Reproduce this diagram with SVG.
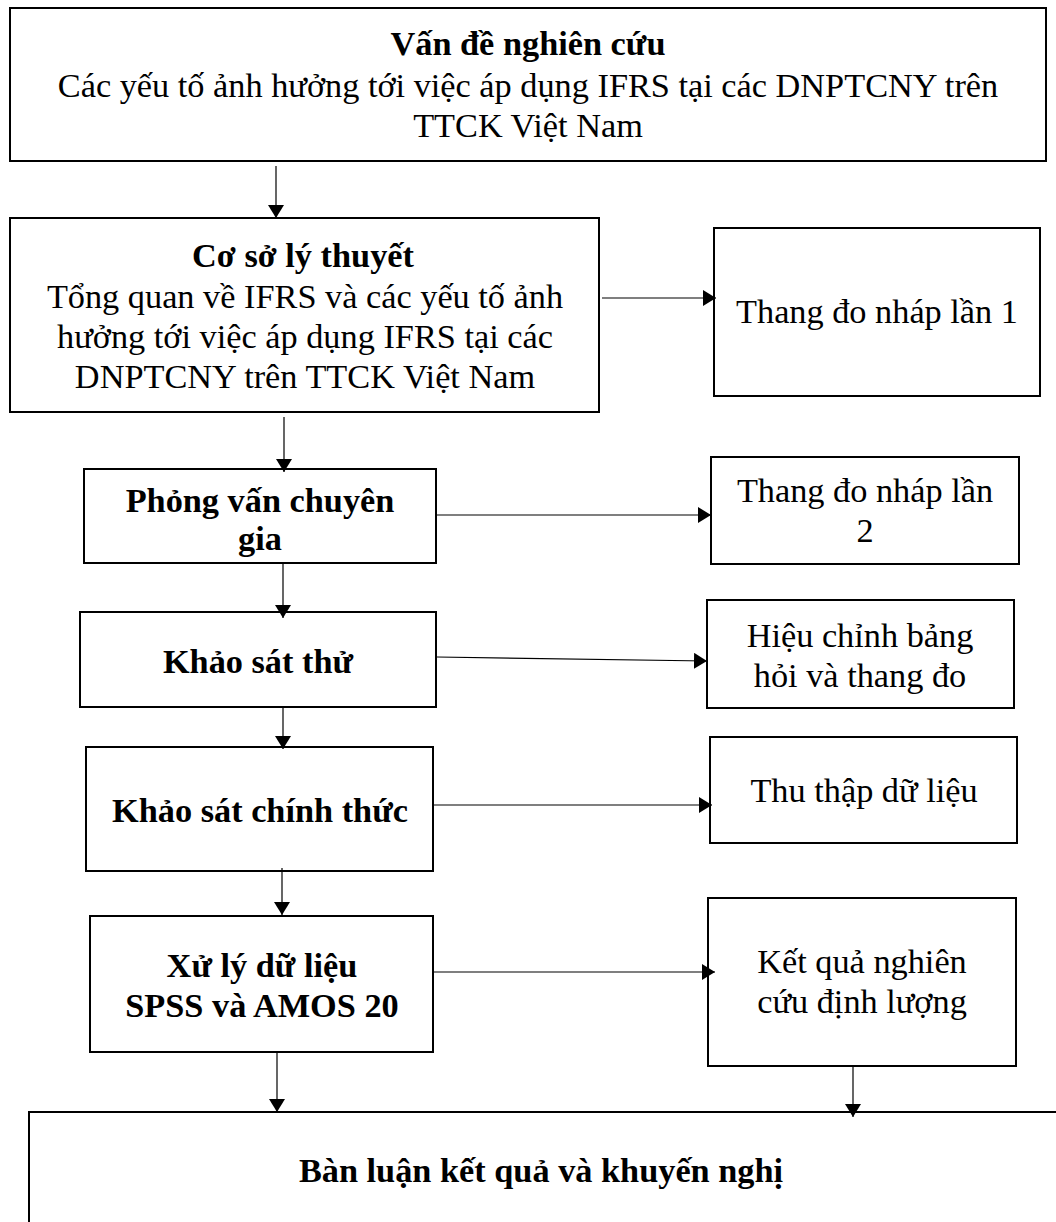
<svg xmlns="http://www.w3.org/2000/svg" width="1056" height="1222" viewBox="0 0 1056 1222">
<defs>
<style>
.box{fill:#fff;stroke:#000;stroke-width:2}
.t{font-family:"Liberation Serif","Times New Roman",serif;font-size:34.3px;fill:#000;text-anchor:middle}
.b{font-weight:bold}
.c{fill:none;stroke:#000;stroke-width:1.2}
</style>
<marker id="ah" viewBox="0 0 13 16" refX="13" refY="8" markerWidth="13" markerHeight="16" markerUnits="userSpaceOnUse" orient="auto">
<path d="M0,0 L13,8 L0,16 z" fill="#000"/>
</marker>
</defs>
<rect width="1056" height="1222" fill="#fff"/>
<g id="n-van-de">
<rect class="box" x="10" y="8" width="1036" height="153"/>
<text class="t b" x="528" y="55">Vấn đề nghiên cứu</text>
<text class="t" x="528" y="97">Các yếu tố ảnh hưởng tới việc áp dụng IFRS tại các DNPTCNY trên</text>
<text class="t" x="528" y="137">TTCK Việt Nam</text>
</g>
<g id="n-co-so">
<rect class="box" x="10" y="218" width="589" height="194"/>
<text class="t b" x="303" y="267">Cơ sở lý thuyết</text>
<text class="t" x="305" y="308">Tổng quan về IFRS và các yếu tố ảnh</text>
<text class="t" x="305" y="348">hưởng tới việc áp dụng IFRS tại các</text>
<text class="t" x="305" y="388">DNPTCNY trên TTCK Việt Nam</text>
</g>
<g id="n-thang-do-1">
<rect class="box" x="714" y="228" width="326" height="168"/>
<text class="t" x="877" y="323">Thang đo nháp lần 1</text>
</g>
<g id="n-phong-van">
<rect class="box" x="84" y="469" width="352" height="94"/>
<text class="t b" x="260" y="512">Phỏng vấn chuyên</text>
<text class="t b" x="260" y="550">gia</text>
</g>
<g id="n-thang-do-2">
<rect class="box" x="711" y="457" width="308" height="107"/>
<text class="t" x="865" y="502">Thang đo nháp lần</text>
<text class="t" x="865" y="542">2</text>
</g>
<g id="n-khao-sat-thu">
<rect class="box" x="80" y="612" width="356" height="95"/>
<text class="t b" x="258" y="673">Khảo sát thử</text>
</g>
<g id="n-hieu-chinh">
<rect class="box" x="707" y="600" width="307" height="108"/>
<text class="t" x="860" y="647">Hiệu chỉnh bảng</text>
<text class="t" x="860" y="687">hỏi và thang đo</text>
</g>
<g id="n-khao-sat-chinh-thuc">
<rect class="box" x="86" y="747" width="347" height="124"/>
<text class="t b" x="260" y="822">Khảo sát chính thức</text>
</g>
<g id="n-thu-thap">
<rect class="box" x="710" y="737" width="307" height="106"/>
<text class="t" x="864" y="802">Thu thập dữ liệu</text>
</g>
<g id="n-xu-ly">
<rect class="box" x="90" y="916" width="343" height="136"/>
<text class="t b" x="262" y="977">Xử lý dữ liệu</text>
<text class="t b" x="262" y="1017">SPSS và AMOS 20</text>
</g>
<g id="n-ket-qua">
<rect class="box" x="708" y="898" width="308" height="168"/>
<text class="t" x="862" y="973">Kết quả nghiên</text>
<text class="t" x="862" y="1013">cứu định lượng</text>
</g>
<g id="n-ban-luan">
<rect class="box" x="29" y="1112" width="1040" height="130"/>
<text class="t b" x="541" y="1182">Bàn luận kết quả và khuyến nghị</text>
</g>
<g id="connectors">
<line class="c" x1="276" y1="166" x2="276" y2="218" marker-end="url(#ah)"/>
<line class="c" x1="602" y1="298" x2="716" y2="298" marker-end="url(#ah)"/>
<line class="c" x1="284" y1="417" x2="284" y2="472" marker-end="url(#ah)"/>
<line class="c" x1="437" y1="515" x2="711" y2="515" marker-end="url(#ah)"/>
<line class="c" x1="283" y1="564" x2="283" y2="618" marker-end="url(#ah)"/>
<line class="c" x1="437" y1="657" x2="707" y2="661" marker-end="url(#ah)"/>
<line class="c" x1="283" y1="708" x2="283" y2="749" marker-end="url(#ah)"/>
<line class="c" x1="434" y1="805" x2="712" y2="805" marker-end="url(#ah)"/>
<line class="c" x1="282" y1="868" x2="282" y2="915" marker-end="url(#ah)"/>
<line class="c" x1="434" y1="972" x2="715" y2="972" marker-end="url(#ah)"/>
<line class="c" x1="277" y1="1053" x2="277" y2="1112" marker-end="url(#ah)"/>
<line class="c" x1="853" y1="1067" x2="853" y2="1117" marker-end="url(#ah)"/>
</g>
</svg>
